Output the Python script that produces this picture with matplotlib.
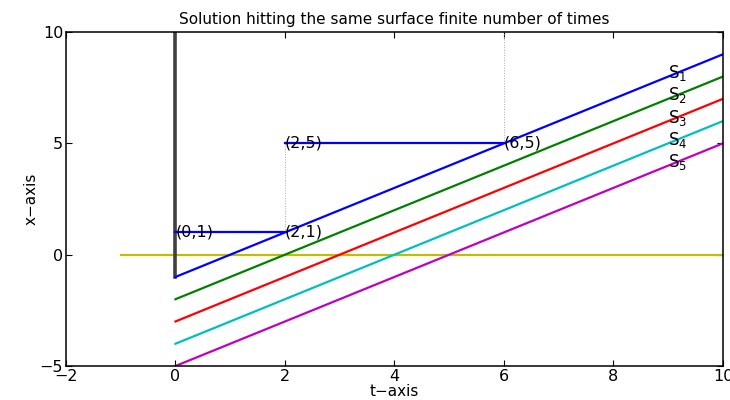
import numpy as np
import matplotlib.pyplot as plt

plt.rcParams.update({"font.family": "DejaVu Sans", "font.size": 11})

# surfaces S_i : x = t + c_i
t_line = [0, 10]
intercepts = [-1, -2, -3, -4, -5]
s_colors = ['#0000ff', '#008000', '#ff0000', '#00bfbf', '#bf00bf']
s_labels = [r'S$_1$', r'S$_2$', r'S$_3$', r'S$_4$', r'S$_5$']
s_label_x = 9.0
s_label_y = [8.15, 7.15, 6.15, 5.15, 4.15]

# solution path pieces
jump_t = [[0, 2], [2, 6]]
jump_x = [[1, 1], [5, 5]]
dot_t = [[2, 2], [6, 6]]
dot_x = [[1, 5], [5, 10]]
pts = [(0, 1), (2, 1), (2, 5), (6, 5)]

fig = plt.figure(figsize=(7.3, 4), dpi=100)
ax = fig.add_axes([0.0904, 0.085, 0.9, 0.835])

ax.plot([-1, 10], [0, 0], color='#bfbf00', lw=1.6)
ax.plot([0, 0], [-1, 10], color='#404040', lw=2.6)
for i in range(len(intercepts)):
    ax.plot(t_line, [t + intercepts[i] for t in t_line], color=s_colors[i], lw=1.6)
    ax.text(s_label_x, s_label_y[i], s_labels[i], fontsize=12, va='center', ha='left')
for tt, xx in zip(dot_t, dot_x):
    ax.plot(tt, xx, color='#a0a0e0', lw=0.7, ls=':')
for tt, xx in zip(jump_t, jump_x):
    ax.plot(tt, xx, color='#0000ff', lw=1.6)
for p in pts:
    ax.text(p[0], p[1], f'({p[0]},{p[1]})', fontsize=11.5, va='center', ha='left')

for s in ax.spines.values():
    s.set_linewidth(1.1)
ax.set_xlim(-2, 10)
ax.set_ylim(-5, 10)
ax.set_xticks([-2, 0, 2, 4, 6, 8, 10])
ax.set_yticks([-5, 0, 5, 10])
ax.tick_params(direction='in', top=True, right=True, labelsize=11.5, length=4, pad=2)
ax.set_xlabel('t\u2212axis', labelpad=0)
ax.set_ylabel('x\u2212axis', labelpad=1)
ax.set_title('Solution hitting the same surface finite number of times', fontsize=11, pad=6)
fig.savefig('out.png', dpi=100)
